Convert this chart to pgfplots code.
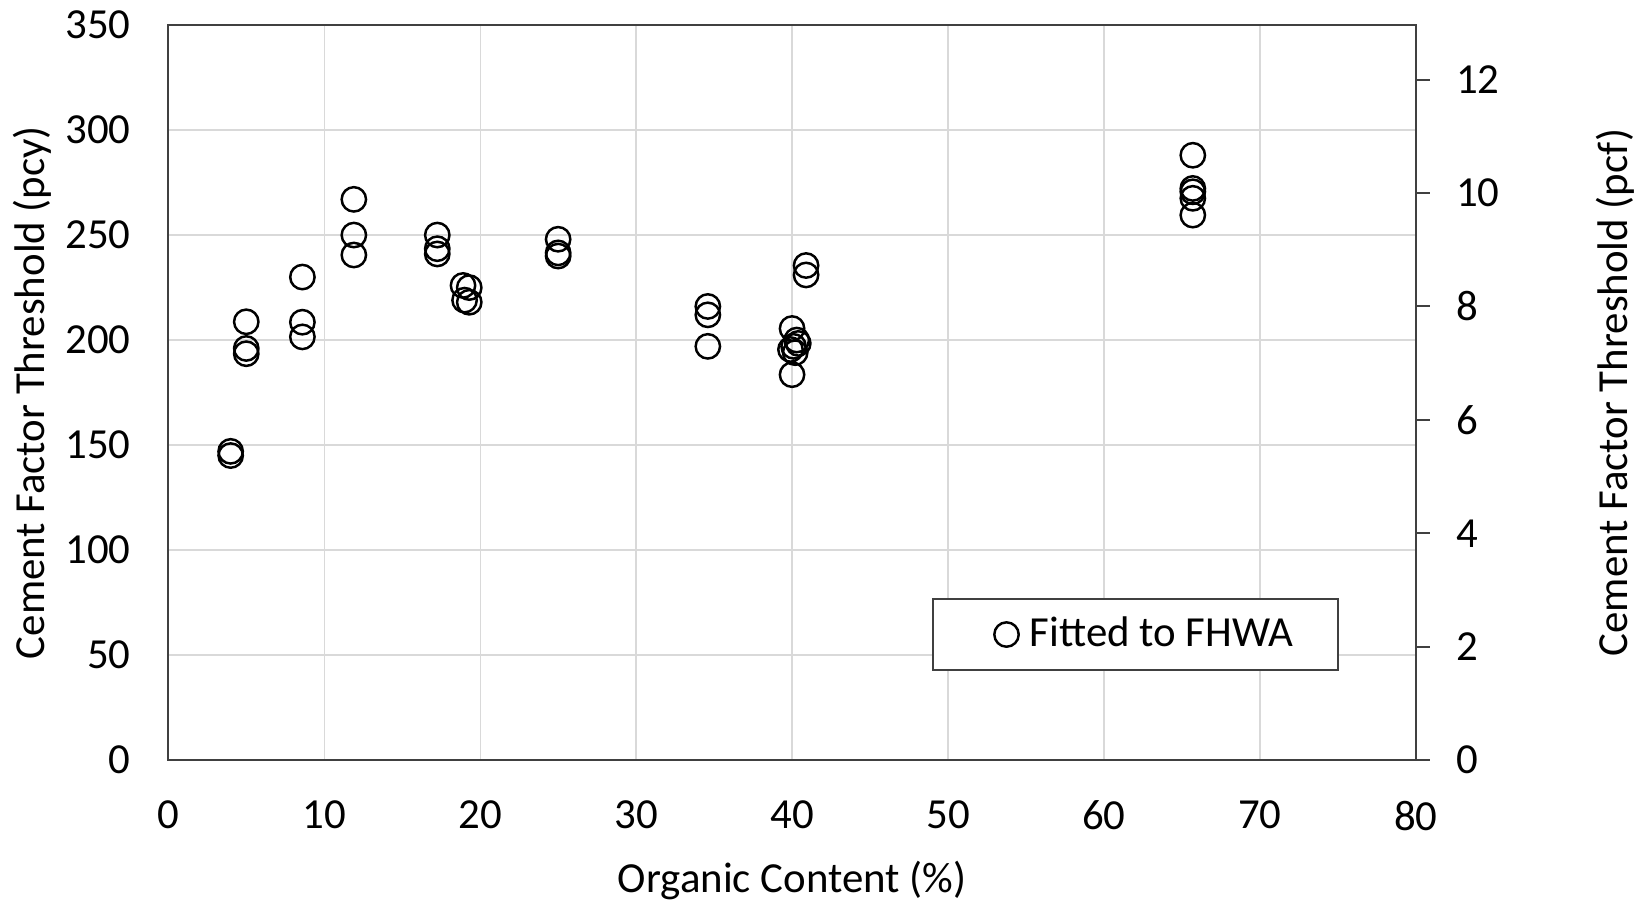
\documentclass[border=0pt]{standalone}
\usepackage{fontspec}
\setmainfont{Carlito}
\usepackage{pgfplots}
\pgfplotsset{compat=1.18}
\definecolor{gridgray}{HTML}{D9D9D9}
\definecolor{axisgray}{HTML}{404040}

\begin{document}
\begin{tikzpicture}
\useasboundingbox (-51.06pt,-42.17pt) rectangle (448.94pt,230.6pt);
% primary axis: cement factor in pounds per cubic yard
\begin{axis}[
  at={(0,0)}, anchor=south west,
  scale only axis, width=378.5pt, height=223pt,
  xmin=0, xmax=80, ymin=0, ymax=350,
  xtick={0,10,...,80}, ytick={0,50,...,350},
  major tick length=0pt,
  grid=major,
  major grid style={gridgray, line width=0.4pt},
  axis line style={axisgray, line width=0.6pt},
  /pgf/number format/assume math mode=true,
  tick label style={font=\fontsize{13}{15}\selectfont, text=black},
  yticklabel style={xshift=-7.9pt},
  xticklabel style={yshift=-8.9pt},
  xlabel={Organic Content (\%)},
  ylabel={Cement Factor Threshold (pcy)},
  label style={font=\fontsize{13}{15}\selectfont},
  xlabel style={at={(axis description cs:0.5,-0.1637)}, anchor=center},
  ylabel style={at={(axis description cs:-0.1089,0.5)}, anchor=center},
  legend style={at={(axis description cs:0.6122,0.2204)}, anchor=north west,
    draw=axisgray, line width=0.6pt, font=\fontsize{13}{15}\selectfont,
    inner xsep=13.7pt, inner ysep=5.5pt, column sep=3pt,
    nodes={inner sep=0pt, anchor=west}},
  legend image code/.code={%
    \path[draw=none] (-8.6pt,0) -- (0,0);
    \draw[black, line width=0.75pt] (0,0) circle (3.7pt);},
]
\addplot[only marks, mark=o, mark size=3.7pt, mark options={black, line width=0.75pt}]
coordinates {
  (4.0,145) (4.0,147)
  (5.0,208.7) (5.0,196) (5.0,193.5)
  (8.6,230) (8.6,208.5) (8.6,201.5)
  (11.9,267) (11.9,250) (11.9,240.5)
  (17.25,250) (17.25,243.5) (17.25,241)
  (18.9,226) (19.3,225) (19.0,219) (19.3,218)
  (25.0,248) (25.0,241.5) (25.0,240)
  (34.6,216) (34.6,212) (34.6,197)
  (40.0,205.5) (39.9,195.5) (40.0,183.5) (40.1,197)
  (40.3,200) (40.4,198.4) (40.2,194)
  (40.9,235.5) (40.9,231)
  (65.7,288) (65.7,272.2) (65.7,270.6) (65.7,267.5) (65.7,259.5)
};
\addlegendentry{Fitted to FHWA}
\end{axis}
% secondary axis: the same threshold in pounds per cubic foot (pcy/27)
\begin{axis}[
  at={(0,0)}, anchor=south west,
  scale only axis, width=378.5pt, height=223pt,
  xmin=0, xmax=80, ymin=0, ymax=12.963,
  axis x line=none,
  axis y line*=right,
  ytick={0,2,...,12},
  tick align=outside, major tick length=4.2pt,
  tick style={axisgray, line width=0.6pt},
  axis line style={axisgray, line width=0.6pt},
  /pgf/number format/assume math mode=true,
  tick label style={font=\fontsize{13}{15}\selectfont, text=black},
  yticklabel style={xshift=4.5pt},
  ylabel={Cement Factor Threshold (pcf)},
  label style={font=\fontsize{13}{15}\selectfont},
  ylabel style={at={(axis description cs:1.1596,0.5)}, anchor=center, rotate=0},
]
\addplot[draw=none, forget plot] coordinates {(0,0)};
\end{axis}
\end{tikzpicture}
\end{document}
